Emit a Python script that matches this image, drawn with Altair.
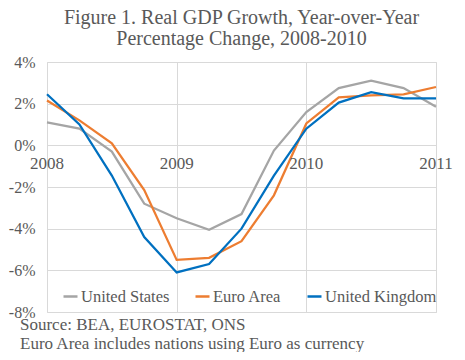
import altair as alt
import pandas as pd

quarters = [2008 + i * 0.25 for i in range(13)]
us = [1.1, 0.8, -0.3, -2.8, -3.5, -4.05, -3.3, -0.25, 1.6, 2.75, 3.1, 2.75, 1.85]
euro = [2.15, 1.2, 0.1, -2.15, -5.5, -5.4, -4.6, -2.4, 1.05, 2.3, 2.4, 2.45, 2.8]
uk = [2.45, 1.0, -1.45, -4.4, -6.1, -5.7, -4.0, -1.45, 0.8, 2.05, 2.55, 2.25, 2.25]
series = ["United States", "Euro Area", "United Kingdom"]
colors = ["#a5a5a5", "#ed7d31", "#0070c0"]
year_labels = [2008, 2009, 2010, 2011]
y_ticks = [-8, -6, -4, -2, 0, 2, 4]
title_lines = ["Figure 1. Real GDP Growth, Year-over-Year", "Percentage Change, 2008-2010"]
notes = ["Source: BEA, EUROSTAT, ONS", "Euro Area includes nations using Euro as currency"]

FONT = "Liberation Serif"
TXT = "#595959"

rows = []
for name, vals in zip(series, [us, euro, uk]):
    for t, v in zip(quarters, vals):
        rows.append({"t": t, "value": v, "series": name})
df = pd.DataFrame(rows)

x_scale = alt.Scale(domain=[2008, 2011], nice=False, zero=False)
y_scale = alt.Scale(domain=[-8, 4], nice=False)

lines = alt.Chart(df).mark_line(strokeWidth=2.25).encode(
    x=alt.X("t:Q", scale=x_scale,
            axis=alt.Axis(values=year_labels, labels=False, ticks=False, domain=False,
                          grid=True, gridColor="#d9d9d9", title=None)),
    y=alt.Y("value:Q", scale=y_scale,
            axis=alt.Axis(values=y_ticks, labelExpr="datum.value + '%'", grid=True,
                          gridColor="#d9d9d9", domain=False, ticks=False, title=None,
                          labelPadding=12, labelFont=FONT, labelFontSize=16,
                          labelColor=TXT)),
    color=alt.Color("series:N", scale=alt.Scale(domain=series, range=colors),
                    legend=alt.Legend(orient="none", legendX=15, legendY=226,
                                      direction="horizontal", title=None,
                                      symbolType="stroke", symbolSize=196,
                                      symbolStrokeWidth=2.5, labelFont=FONT,
                                      labelFontSize=16.5, labelColor=TXT,
                                      columnPadding=20, labelOffset=2, padding=0,
                                      labelLimit=300)),
    order=alt.Order("t:Q"),
)

year_df = pd.DataFrame({"year": year_labels, "zero": [0] * len(year_labels)})
years = alt.Chart(year_df).mark_text(font=FONT, fontSize=17, color=TXT, dy=19,
                                     baseline="middle", align="center").encode(
    x=alt.X("year:Q", scale=x_scale),
    y=alt.Y("zero:Q", scale=y_scale),
    text=alt.Text("year:N"),
)

note_layers = []
for i, note in enumerate(notes):
    note_layers.append(
        alt.Chart(pd.DataFrame({"n": [note]})).mark_text(
            font=FONT, fontSize=17, color=TXT, align="left", baseline="alphabetic"
        ).encode(x=alt.value(-27), y=alt.value(267.5 + 19 * i), text="n:N")
    )

chart = alt.layer(lines, years, *note_layers).properties(
    width=389, height=250,
    title=alt.Title(title_lines, anchor="middle", font=FONT, fontSize=20,
                    fontWeight="normal", color=TXT, offset=5, lineHeight=21),
    autosize=alt.AutoSizeParams(type="none"),
    padding={"left": 39, "top": 54, "right": 21, "bottom": 40},
).configure_view(stroke=None).configure(background="white")

chart.save("out.html", embed_options={"renderer": "svg", "actions": False})
